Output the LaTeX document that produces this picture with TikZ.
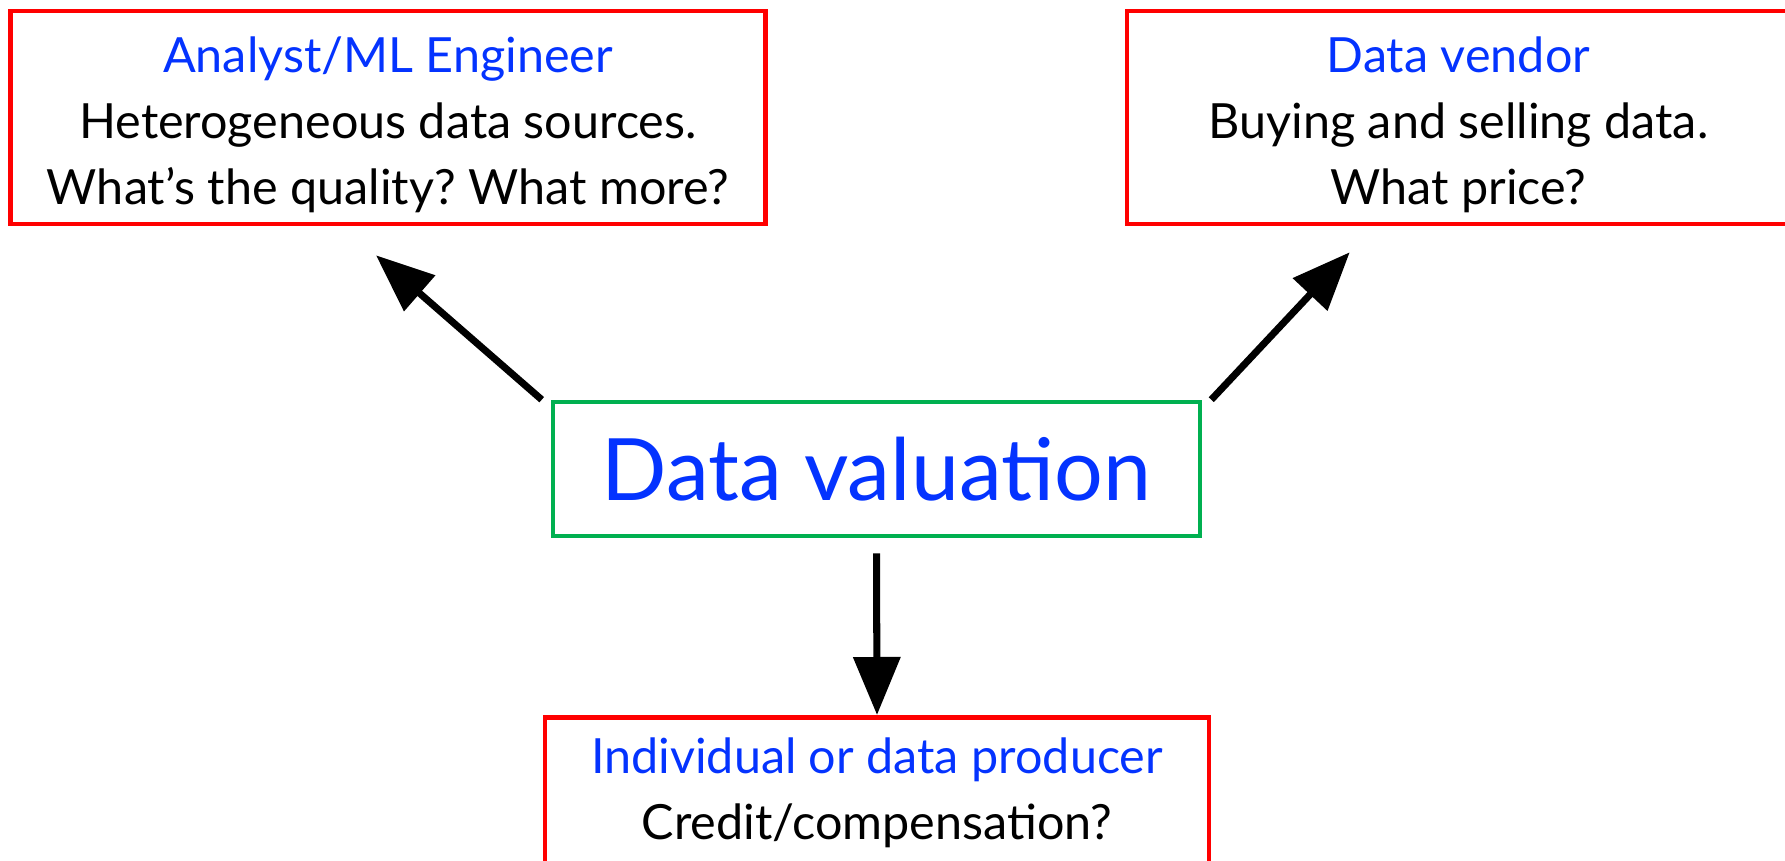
\documentclass[tikz,border=0pt]{standalone}
\usepackage{fontspec}
\setmainfont{Lato}
\usetikzlibrary{arrows.meta,positioning}
\definecolor{vblue}{RGB}{4,51,255}
\definecolor{vred}{RGB}{255,0,0}
\definecolor{vgreen}{RGB}{0,176,80}
\newcommand{\roletitle}[1]{\rule{0pt}{14.5pt}\textcolor{vblue}{#1}}
\begin{document}
\begin{tikzpicture}[
  rolebox/.style={draw=vred,line width=1.3pt,align=center,inner sep=0pt,minimum height=2.13cm,font=\fontsize{13.8}{18.8}\selectfont},
  valbox/.style={draw=vgreen,line width=1.3pt,inner sep=0pt,minimum width=6.47cm,minimum height=1.34cm,text=vblue,font=\fontsize{24.5}{28}\selectfont},
  bigarrow/.style={line width=2pt,-{Triangle[length=0.58cm,width=0.46cm]}}]
\clip(0,0)rectangle(17.85,8.61);
\node[valbox](valuation)at(8.765,3.92){Data valuation};
\node[rolebox,minimum width=7.55cm](analyst)at(3.88,7.435){\roletitle{Analyst/ML Engineer}\\Heterogeneous data sources.\\What’s the quality?\ What more?};
\node[rolebox,minimum width=6.63cm](vendor)at(14.585,7.435){\roletitle{Data vendor}\\Buying and selling data.\\What price?};
\node[rolebox,minimum width=6.64cm,anchor=north](producer)at(8.77,1.46){\roletitle{Individual or data producer}\\Credit/compensation?\\\strut};
\draw[bigarrow]([xshift=-0.09cm]valuation.north west)--([shift={(-0.12,-0.29)}]analyst.south);
\draw[bigarrow]([xshift=0.09cm]valuation.north east)--([shift={(2.25,-0.26)}]vendor.south west);
\draw[bigarrow]([yshift=-0.15cm]valuation.south)--(producer.north);
\end{tikzpicture}
\end{document}
